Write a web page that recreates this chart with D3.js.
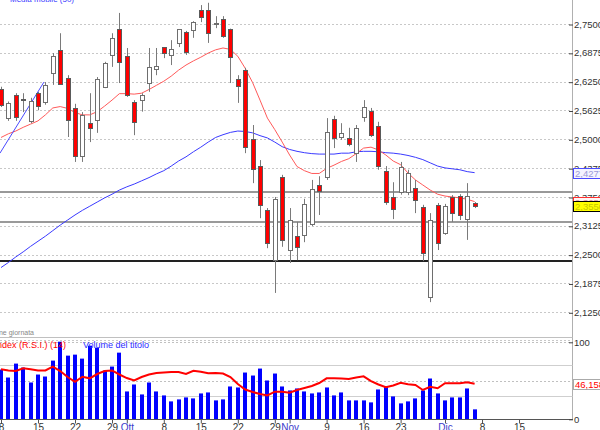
<!DOCTYPE html>
<html><head><meta charset="utf-8">
<script src="https://cdn.jsdelivr.net/npm/d3@7"></script>
<style>body{margin:0;background:#fff;overflow:hidden}svg{display:block}text{font-family:"Liberation Sans",Arial,sans-serif}</style>
</head><body><svg id="c" width="600" height="430"></svg>
<script>
const dates = ["2015-09-08","2015-09-09","2015-09-10","2015-09-11","2015-09-14","2015-09-15","2015-09-16","2015-09-17","2015-09-18","2015-09-21","2015-09-22","2015-09-23","2015-09-24","2015-09-25","2015-09-28","2015-09-29","2015-09-30","2015-10-01","2015-10-02","2015-10-05","2015-10-06","2015-10-07","2015-10-08","2015-10-09","2015-10-12","2015-10-13","2015-10-14","2015-10-15","2015-10-16","2015-10-19","2015-10-20","2015-10-21","2015-10-22","2015-10-23","2015-10-26","2015-10-27","2015-10-28","2015-10-29","2015-10-30","2015-11-02","2015-11-03","2015-11-04","2015-11-05","2015-11-06","2015-11-09","2015-11-10","2015-11-11","2015-11-12","2015-11-13","2015-11-16","2015-11-17","2015-11-18","2015-11-19","2015-11-20","2015-11-23","2015-11-24","2015-11-25","2015-11-26","2015-11-27","2015-11-30","2015-12-01","2015-12-02","2015-12-03","2015-12-04","2015-12-07"];
const open = [2.609,2.546,2.596,2.587,2.540,2.600,2.581,2.644,2.694,2.633,
2.568,2.464,2.535,2.542,2.613,2.683,2.739,2.681,2.581,2.585,
2.622,2.652,2.700,2.683,2.709,2.733,2.737,2.780,2.780,2.750,
2.761,2.739,2.631,2.650,2.501,2.442,2.347,2.238,2.418,2.260,
2.290,2.293,2.316,2.401,2.418,2.544,2.505,2.503,2.470,2.548,
2.561,2.529,2.431,2.375,2.386,2.386,2.394,2.353,2.158,2.358,
2.297,2.375,2.377,2.327,2.362];
const high = [2.614,2.582,2.600,2.600,2.590,2.603,2.624,2.687,2.730,2.639,
2.577,2.559,2.600,2.635,2.668,2.730,2.774,2.698,2.585,2.600,
2.698,2.698,2.700,2.715,2.739,2.735,2.756,2.791,2.796,2.767,
2.767,2.740,2.639,2.655,2.531,2.455,2.351,2.375,2.423,2.351,
2.321,2.371,2.412,2.420,2.546,2.551,2.535,2.525,2.531,2.585,
2.568,2.538,2.442,2.407,2.451,2.434,2.412,2.358,2.340,2.362,
2.360,2.379,2.381,2.405,2.364];
const low = [2.570,2.540,2.540,2.559,2.535,2.563,2.575,2.618,2.618,2.505,
2.451,2.451,2.494,2.514,2.611,2.657,2.622,2.592,2.509,2.560,
2.603,2.639,2.676,2.661,2.700,2.683,2.720,2.754,2.709,2.741,
2.720,2.622,2.579,2.470,2.405,2.329,2.264,2.167,2.267,2.232,
2.238,2.277,2.312,2.336,2.412,2.481,2.499,2.485,2.451,2.538,
2.505,2.434,2.358,2.327,2.380,2.379,2.340,2.236,2.147,2.260,
2.293,2.321,2.325,2.282,2.351];
const close = [2.575,2.578,2.548,2.585,2.583,2.572,2.618,2.681,2.620,2.542,
2.464,2.553,2.525,2.631,2.665,2.720,2.668,2.596,2.538,2.596,
2.657,2.659,2.687,2.696,2.739,2.689,2.754,2.765,2.730,2.752,
2.724,2.678,2.616,2.483,2.436,2.358,2.275,2.371,2.282,2.325,
2.267,2.360,2.392,2.388,2.516,2.503,2.514,2.490,2.525,2.570,
2.509,2.442,2.364,2.349,2.440,2.427,2.368,2.254,2.325,2.275,
2.355,2.340,2.336,2.377,2.355];
const volume = [5.0,4.2,5.6,5.2,3.7,4.5,4.3,5.9,7.8,6.4,
6.5,6.1,7.4,7.2,4.9,5.3,6.7,2.8,3.5,2.5,
3.7,2.8,2.4,1.8,2.0,2.2,2.1,2.6,2.7,1.9,
2.0,3.3,3.2,4.7,4.4,5.1,3.9,4.6,3.3,2.9,
3.1,2.8,2.6,2.7,3.2,2.4,2.7,1.9,1.9,1.9,
1.7,3.0,3.3,2.3,1.6,1.8,2.1,2.9,4.1,2.6,
1.9,2.2,2.2,3.1,1.0];
const rsi = [64.9,63.4,62.7,66.2,64.9,63.4,63.4,68.3,62.7,54.9,
48.8,55.3,53.2,58.8,62.7,63.4,58.2,53.6,50.4,54.9,
58.2,60.1,60.8,61.4,61.4,58.8,63.1,61.8,59.7,60.1,
59.5,54.9,45.8,38.7,35.5,32.9,30.9,35.8,35.8,34.5,
38.1,40.6,43.2,47.1,53.2,53.2,53.0,52.3,54.3,55.8,
49.7,45.2,41.6,43.9,47.5,45.5,44.5,38.1,42.3,40.3,
46.8,46.8,46.8,48.1,46.158];
const maShort = [2.504,2.512,2.518,2.526,2.533,2.540,2.553,2.568,2.571,2.567,
2.558,2.553,2.553,2.560,2.572,2.585,2.599,2.599,2.598,2.600,
2.608,2.617,2.626,2.637,2.650,2.661,2.670,2.678,2.687,2.694,
2.698,2.695,2.680,2.654,2.623,2.585,2.546,2.521,2.494,2.466,
2.441,2.432,2.426,2.426,2.437,2.444,2.452,2.458,2.469,2.481,
2.483,2.477,2.466,2.453,2.445,2.427,2.412,2.401,2.390,2.381,
2.377,2.375,2.373,2.370,2.365];
const ma50 = [2.222,2.233,2.245,2.256,2.268,2.279,2.290,2.302,2.314,2.325,
2.336,2.346,2.355,2.364,2.373,2.381,2.390,2.397,2.403,2.410,
2.417,2.425,2.432,2.442,2.453,2.462,2.473,2.483,2.494,2.504,
2.510,2.515,2.518,2.517,2.514,2.508,2.503,2.494,2.484,2.478,
2.474,2.471,2.469,2.468,2.468,2.468,2.470,2.470,2.473,2.474,
2.474,2.473,2.471,2.470,2.468,2.465,2.461,2.456,2.449,2.442,
2.438,2.436,2.434,2.430,2.4277];
const trendIdx = [-0.14, 5.8];
const trendVal = [2.470, 2.624];
const levels = [2.3858, 2.3214, 2.2369];
const yTicks = [2.75, 2.6875, 2.625, 2.5625, 2.5, 2.4375, 2.375, 2.3125, 2.25, 2.1875, 2.125];
const xTickIdx = [0,5,10,15,17,22,27,32,37,39,44,49,54,60,65,70];
const xTickLabels = ["8","15","22","29","Ott","8","15","22","29","Nov","9","16","23","Dic","8","15"];
const monthLabels = ["Ott","Nov","Dic"];
const rsiTicks = [0, 100];
const rsiGridSolid = [70, 30];
const rsiGridDot = [100, 50];

const loc = d3.formatLocale({decimal:",", thousands:".", grouping:[3], currency:["€",""]});
const f4 = loc.format(".4f"), f3 = loc.format(".3f");

const svg = d3.select("#c");
const AX = 572.5;
const x = d3.scaleLinear().domain([0, 77.2]).range([1, 572.3]);
const y = d3.scaleLinear().domain([2.125, 2.75]).range([312.3, 24]);
const ry = d3.scaleLinear().domain([0, 100]).range([419.3, 342.3]);
const vy = d3.scaleLinear().domain([0, 7.8]).range([419.3, 341.7]);
const px = v => Math.round(v) + 0.5;

svg.append("defs").append("clipPath").attr("id","mainClip").append("rect").attr("x",0).attr("y",0).attr("width",572).attr("height",330);
svg.select("defs").append("clipPath").attr("id","lowClip").append("rect").attr("x",0).attr("y",338).attr("width",572).attr("height",82);

// main grid
svg.append("g").selectAll("line").data(yTicks).join("line")
  .attr("x1",0).attr("x2",AX).attr("y1",d=>px(y(d))).attr("y2",d=>px(y(d)))
  .attr("stroke","#c8c8c8").attr("stroke-dasharray","2,2");

const main = svg.append("g").attr("clip-path","url(#mainClip)");
const lvlStyle = [{c:"#333",w:1},{c:"#9a9a9a",w:2},{c:"#222",w:2}];
main.selectAll("line.lvl").data(levels).join("line").attr("class","lvl")
  .attr("x1",0).attr("x2",AX).attr("y1",d=>Math.round(y(d))).attr("y2",d=>Math.round(y(d)))
  .attr("stroke",(d,i)=>lvlStyle[i].c).attr("stroke-width",(d,i)=>lvlStyle[i].w);

const idx = d3.range(dates.length);
const lineGen = arr => d3.line().x(i=>x(i)).y(i=>y(arr[i]))(idx);
main.append("path").attr("d",lineGen(ma50)).attr("fill","none").attr("stroke","#3a3aff").attr("stroke-width",1);
main.append("path").attr("d",lineGen(maShort)).attr("fill","none").attr("stroke","#ff5a5a").attr("stroke-width",1);
main.append("line").attr("x1",x(trendIdx[0])).attr("y1",y(trendVal[0])).attr("x2",x(trendIdx[1])).attr("y2",y(trendVal[1]))
  .attr("stroke","#4a4aff").attr("stroke-width",1);

const cg = main.append("g");
idx.forEach(i=>{
  const cx = Math.round(x(i));
  const up = close[i] >= open[i];
  cg.append("line").attr("x1",cx+0.5).attr("x2",cx+0.5).attr("y1",y(high[i])).attr("y2",y(low[i]))
    .attr("stroke","#7a7a7a").attr("stroke-width",1);
  const top = Math.round(y(Math.max(open[i],close[i]))), bot = Math.round(y(Math.min(open[i],close[i])));
  cg.append("rect").attr("x",cx-1.5).attr("y",top+0.5).attr("width",4).attr("height",Math.max(1,bot-top))
    .attr("fill",up?"#ffffff":"#ff0000").attr("stroke",up?"#6e6e6e":"#5a5a5a").attr("stroke-width",1);
});

svg.append("line").attr("x1",AX).attr("x2",AX).attr("y1",0).attr("y2",420).attr("stroke","#b0b0b0");

const yAxis = d3.axisRight(y).tickValues(yTicks).tickSize(4).tickPadding(1).tickFormat(f4);
const ya = svg.append("g").attr("transform","translate(569,0)").call(yAxis);
ya.select(".domain").remove();
ya.selectAll("line").attr("stroke","#444").attr("transform","translate(0,0.5)");
ya.selectAll("text").attr("fill","#333").style("font-size","9.5px");

function valLabel(v, txt, fill, color, border){
  const g = svg.append("g").attr("transform",`translate(573,${Math.round(y(v))})`);
  g.append("rect").attr("x",0.5).attr("y",-4.5).attr("width",40).attr("height",10).attr("fill",fill).attr("stroke",border);
  g.append("text").attr("x",2).attr("y",4).attr("fill",color).style("font-size","9.5px").text(txt);
}
valLabel(ma50[ma50.length-1], f4(ma50[ma50.length-1]), "#f4f4ff", "#9a9ad8", "#4a4aff");
valLabel(maShort[maShort.length-1], f4(maShort[maShort.length-1]), "#fff4f4", "#d89a9a", "#ff3030");
valLabel(close[close.length-1], f4(close[close.length-1]), "#ffff00", "#c8c800", "#000");

svg.append("text").attr("x",10).attr("y",2).attr("fill","#3a3aff").style("font-size","8px").text("Media mobile (50)");
svg.append("text").attr("x",34).attr("y",335).attr("text-anchor","end").attr("fill","#888").style("font-size","7px").text("Fine giornata");

svg.append("line").attr("x1",0).attr("x2",AX).attr("y1",337.5).attr("y2",337.5).attr("stroke","#c0c0c0");
svg.append("line").attr("x1",0).attr("x2",AX).attr("y1",340.5).attr("y2",340.5).attr("stroke","#c8c8c8").attr("stroke-dasharray","2,2");
svg.append("g").selectAll("line").data(rsiGridDot).join("line")
  .attr("x1",0).attr("x2",AX).attr("y1",d=>px(ry(d))).attr("y2",d=>px(ry(d)))
  .attr("stroke","#c0c0c0").attr("stroke-dasharray","2,2");
svg.append("g").selectAll("line").data(rsiGridSolid).join("line")
  .attr("x1",0).attr("x2",AX).attr("y1",d=>px(ry(d))).attr("y2",d=>px(ry(d)))
  .attr("stroke","#cfcfcf");

const low2 = svg.append("g").attr("clip-path","url(#lowClip)");
low2.selectAll("rect").data(idx).join("rect")
  .attr("x",i=>Math.round(x(i))-2).attr("width",4)
  .attr("y",i=>vy(volume[i])).attr("height",i=>vy(0)-vy(volume[i]))
  .attr("fill","#0000ff");
low2.append("path").attr("d",d3.line().x(i=>x(i)).y(i=>ry(rsi[i]))(idx))
  .attr("fill","none").attr("stroke","#ff0000").attr("stroke-width",2);

svg.append("text").attr("x",66).attr("y",348).attr("text-anchor","end").attr("fill","#ff0000").style("font-size","9px").text("Relative Strength Index (R.S.I.) (14)");
svg.append("text").attr("x",83).attr("y",348).attr("fill","#2a2aff").style("font-size","9px").text("Volume del titolo");

const xAxis = d3.axisBottom(x).tickValues(xTickIdx).tickSize(4).tickPadding(0).tickFormat((d,i)=>xTickLabels[i]);
const xa = svg.append("g").attr("transform","translate(0,419.5)").call(xAxis);
xa.select(".domain").attr("d","M0,0H"+AX).attr("stroke","#555");
xa.selectAll("line").attr("stroke","#555");
xa.selectAll("text").style("font-size","10px").attr("fill",(d,i)=>monthLabels.includes(xTickLabels[i])?"#3a3acc":"#333");

const ra = svg.append("g").attr("transform","translate(569,0)").call(d3.axisRight(ry).tickValues(rsiTicks).tickSize(4).tickPadding(1));
ra.select(".domain").remove();
ra.selectAll("line").attr("stroke","#444");
ra.selectAll("text").attr("fill","#333").style("font-size","9.5px");
const rl = svg.append("g").attr("transform",`translate(573,${Math.round(ry(rsi[rsi.length-1]))})`);
rl.append("rect").attr("x",0.5).attr("y",-4.5).attr("width",40).attr("height",10).attr("fill","#fff").attr("stroke","#aaa");
rl.append("text").attr("x",2).attr("y",4).attr("fill","#ff0000").style("font-size","9.5px").text(f3(rsi[rsi.length-1]));
</script></body></html>
